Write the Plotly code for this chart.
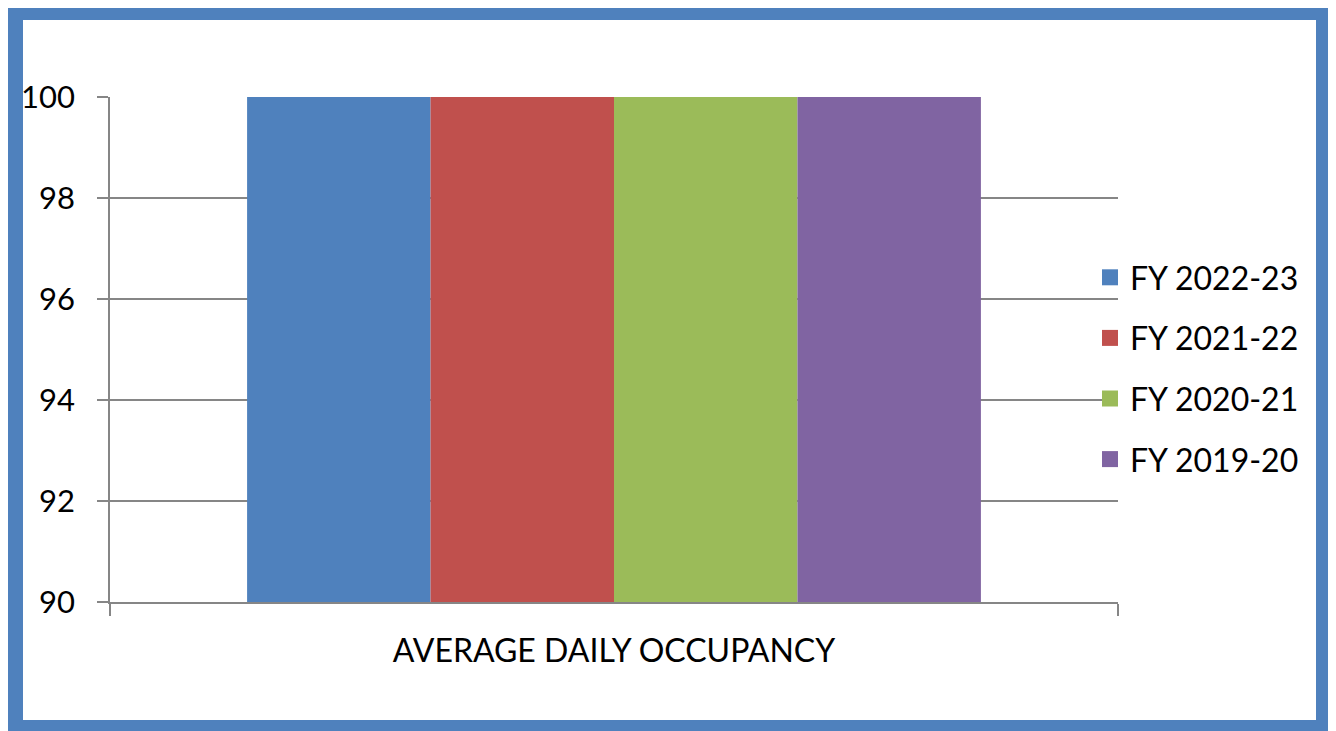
import plotly.graph_objects as go

categories = ["AVERAGE DAILY OCCUPANCY"]
series_names = ["FY 2022-23", "FY 2021-22", "FY 2020-21", "FY 2019-20"]
series_values = [[100], [100], [100], [100]]
series_colors = ["#4F81BD", "#C0504D", "#9BBB59", "#8064A2"]
y_ticks = [90, 92, 94, 96, 98, 100]

OFF = 8  # page body margin
W, H = 1336 - OFF, 731 - OFF
L, R, T, B = 110 - OFF, 1118 - OFF, 97 - OFF, 602 - OFF

fig = go.Figure()
for name, vals, col in zip(series_names, series_values, series_colors):
    fig.add_trace(go.Bar(x=categories, y=vals, name=name, marker_color=col,
                         marker_line_width=0, legendgroup=name,
                         showlegend=False))
    fig.add_trace(go.Scatter(x=[None], y=[None], mode="markers", name=name,
                             legendgroup=name,
                             marker=dict(symbol="square", size=21, color=col)))

def px(x):
    return (x - OFF - L) / (R - L)

def py(y):
    return (B - (y - OFF)) / (B - T)

fig.add_shape(type="rect", xref="paper", yref="paper",
              x0=px(15), x1=px(1324), y0=py(728), y1=py(12),
              line=dict(color="#4F81BD", width=16), fillcolor="rgba(0,0,0,0)",
              layer="above")

fig.update_layout(
    width=W, height=H,
    margin=dict(l=L, r=W - R, t=T, b=H - B),
    paper_bgcolor="white", plot_bgcolor="white",
    barmode="group", bargap=0.272, bargroupgap=0,
    font=dict(family="Lato", size=31, color="black"),
    legend=dict(x=px(1090), y=py(250), xanchor="left", yanchor="top",
                font=dict(size=32), tracegroupgap=16, itemwidth=30,
                bgcolor="rgba(0,0,0,0)"),
    showlegend=True,
)
fig.update_yaxes(range=[90, 100], tickvals=y_ticks, showgrid=True,
                 gridcolor="#868686", gridwidth=1.5, showline=True,
                 linecolor="#868686", linewidth=1.5, ticks="outside",
                 ticklen=11, tickcolor="#868686", tickwidth=1.5,
                 ticklabelstandoff=16, tickfont=dict(size=31), zeroline=False)
fig.update_xaxes(showline=True, linecolor="#868686", linewidth=1.5,
                 ticks="outside", tickson="boundaries", ticklen=12,
                 tickcolor="#868686", tickwidth=1.5, ticklabelstandoff=20,
                 tickfont=dict(size=32))

fig.write_html("out.html")
